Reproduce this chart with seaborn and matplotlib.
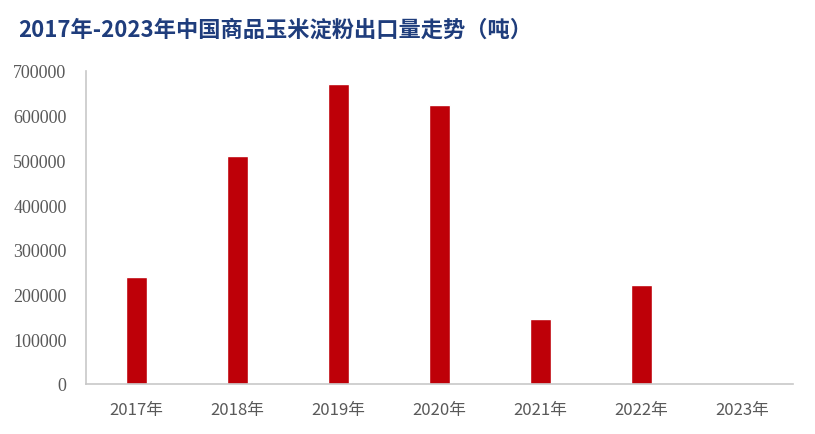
import numpy as np
import pandas as pd
import seaborn as sns
import matplotlib.pyplot as plt

# 数据
years = ['2017年', '2018年', '2019年', '2020年', '2021年', '2022年', '2023年']
export_volume = [240000, 510000, 671000, 624000, 145000, 221000, 0]
y_ticks = [0, 100000, 200000, 300000, 400000, 500000, 600000, 700000]

df = pd.DataFrame({'year': years, 'volume': export_volume})

sns.set_theme(style='white')
plt.rcParams['font.family'] = ['Noto Sans CJK SC', 'DejaVu Sans']

fig = plt.figure(figsize=(8.15, 4.35), dpi=100)
ax = fig.add_axes([0.1055, 0.115, 0.8675, 0.72])

sns.barplot(data=df, x='year', y='volume', color='#BE0008', width=0.2,
            saturation=1, ax=ax)

ax.set_xlim(-0.5, len(years) - 0.5)
ax.set_ylim(0, 700000)
ax.set_yticks(y_ticks)
ax.set_yticklabels([str(v) for v in y_ticks], family='Liberation Serif',
                   fontsize=13, color='#595959')
ax.set_xticks(range(len(years)))
ax.set_xticklabels(years, family=['Liberation Sans Narrow', 'Noto Sans CJK SC'],
                   fontsize=12, color='#595959')
ax.tick_params(axis='y', length=0, pad=14)
ax.tick_params(axis='x', length=0, pad=12)
ax.set_xlabel('')
ax.set_ylabel('')

for side in ['top', 'right']:
    ax.spines[side].set_visible(False)
for side in ['left', 'bottom']:
    ax.spines[side].set_color('#C8C8C8')
    ax.spines[side].set_linewidth(1.2)

fig.text(0.022, 0.93, '2017年-2023年中国商品玉米淀粉出口量走势（吨）',
         fontsize=16, fontweight='bold', color='#1F3D7C', va='center')

fig.savefig('out.png', dpi=100)
